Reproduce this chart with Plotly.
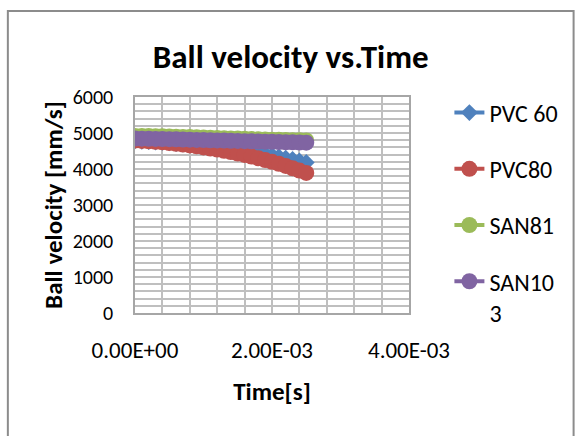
import plotly.graph_objects as go

# ---- data ----
time_s = [0.0, 0.0001, 0.0002, 0.0003, 0.0004, 0.0005, 0.0006, 0.0007, 0.0008, 0.0009,
          0.0010, 0.0011, 0.0012, 0.0013, 0.0014, 0.0015, 0.0016, 0.0017, 0.0018, 0.0019,
          0.0020, 0.0021, 0.0022, 0.0023, 0.0024, 0.0025]
pvc60 = [4780, 4770, 4760, 4750, 4740, 4725, 4710, 4695, 4680, 4665, 4645, 4625, 4605,
         4585, 4560, 4535, 4510, 4480, 4450, 4415, 4380, 4340, 4300, 4265, 4225, 4180]
pvc80 = [4790, 4780, 4770, 4755, 4740, 4720, 4700, 4680, 4655, 4630, 4600, 4570, 4540,
         4505, 4470, 4430, 4390, 4345, 4300, 4250, 4200, 4145, 4085, 4020, 3955, 3890]
san81 = [4920, 4918, 4915, 4912, 4908, 4903, 4898, 4892, 4886, 4880, 4874, 4868, 4862,
         4856, 4850, 4844, 4838, 4832, 4826, 4820, 4815, 4810, 4806, 4802, 4798, 4795]
san103 = [4845, 4842, 4839, 4836, 4832, 4828, 4824, 4819, 4814, 4809, 4804, 4799, 4794,
          4789, 4784, 4779, 4774, 4769, 4764, 4759, 4754, 4749, 4744, 4740, 4736, 4732]
series_names = ["PVC 60", "PVC80", "SAN81", "SAN10<br>3"]
x_tick_vals = [0.0, 0.002, 0.004]
x_tick_text = ["0.00E+00", "2.00E-03", "4.00E-03"]
y_tick_vals = [0, 1000, 2000, 3000, 4000, 5000, 6000]
y_tick_text = ["0", "1000", "2000", "3000", "4000", "5000", "6000"]

colors = ["#4F81BD", "#C0504D", "#9BBB59", "#8064A2"]
symbols = ["diamond", "circle", "circle", "circle"]
sizes = [13, 16, 16, 16]
FONT = "Calibri, Carlito, Lato, sans-serif"

W, H = 575, 436
L, R, T, B = 135, 162, 97, 123
pw, ph = W - L - R, H - T - B

fig = go.Figure()
for i, ys in enumerate([pvc60, pvc80, san81, san103]):
    fig.add_trace(go.Scatter(
        x=time_s, y=ys, mode="lines+markers", name=series_names[i],
        legendgroup=f"g{i}",
        line=dict(color=colors[i], width=4),
        marker=dict(symbol=symbols[i], size=sizes[i], color=colors[i]),
    ))

grid = "#BFBFBF"
fig.update_xaxes(
    range=[0, 0.004], tickvals=x_tick_vals, ticktext=x_tick_text,
    showgrid=True, gridcolor=grid, gridwidth=1.5,
    minor=dict(dtick=0.0004, showgrid=True, gridcolor=grid, gridwidth=1.5, ticks=""),
    showline=True, linecolor="#A6A6A6", linewidth=1.5, mirror=True,
    ticks="", zeroline=False, ticklabelstandoff=16,
    tickfont=dict(family=FONT, size=23, color="#000"),
    title=dict(text="<b>Time[s]</b>", font=dict(family=FONT, size=25, color="#000"), standoff=19),
)
fig.update_yaxes(
    range=[0, 6000], tickvals=y_tick_vals, ticktext=y_tick_text,
    showgrid=True, gridcolor=grid, gridwidth=1.5,
    minor=dict(dtick=200, showgrid=True, gridcolor=grid, gridwidth=1.5, ticks=""),
    showline=True, linecolor="#A6A6A6", linewidth=1.5, mirror=True,
    ticks="", zeroline=False, ticklabelstandoff=16,
    tickfont=dict(family=FONT, size=20, color="#000"),
    title=dict(text="<b>Ball velocity [mm/s]</b>", font=dict(family=FONT, size=25, color="#000"), standoff=3),
)

fig.update_layout(
    width=W, height=H, autosize=False,
    margin=dict(l=L, r=R, t=T, b=B),
    paper_bgcolor="white", plot_bgcolor="white",
    title=dict(text="<b>Ball velocity vs.Time</b>", x=(293 - L) / pw, xref="paper",
               xanchor="center", y=1 - 56 / H, yanchor="middle",
               font=dict(family=FONT, size=33, color="#000")),
    legend=dict(x=(454 - L) / pw, y=1.03, xanchor="left", yanchor="top",
                font=dict(family=FONT, size=24, color="#000"),
                tracegroupgap=22, bgcolor="rgba(0,0,0,0)", itemwidth=30,
                valign="top", maxheight=420),
    showlegend=True,
)
# outer chart border
fig.add_shape(type="rect", xref="paper", yref="paper",
              x0=(6 - L) / pw, x1=(W + 5 - L) / pw,
              y0=-(H + 5 - T - ph) / ph, y1=1 + (T - 11) / ph,
              line=dict(color="#8C8C8C", width=2), layer="below")

fig.write_html("out.html")
